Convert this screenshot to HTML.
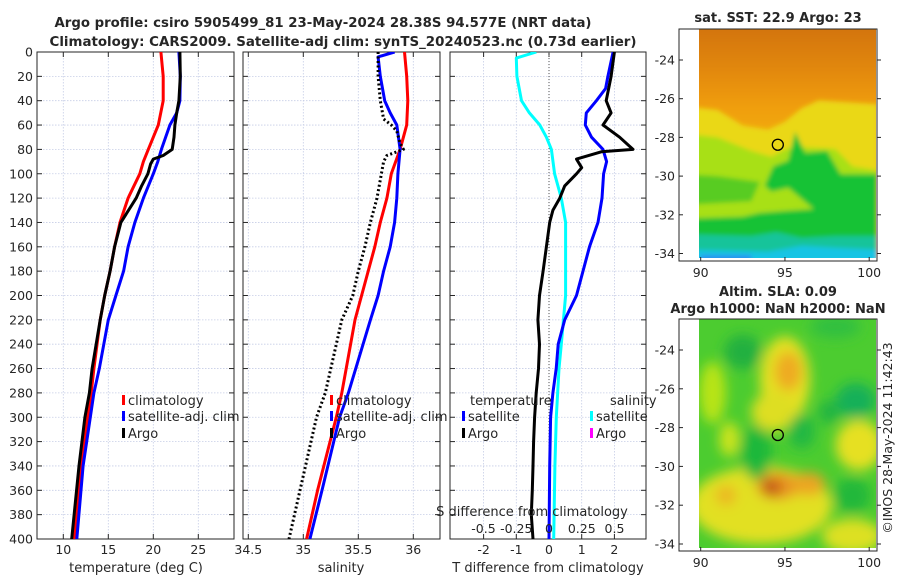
<!DOCTYPE html>
<html><head><meta charset="utf-8">
<style>
html,body{margin:0;padding:0;background:#fff;}
svg{display:block;font-family:"DejaVu Sans","Liberation Sans",sans-serif;}
text{fill:#262626;}
</style></head>
<body>
<svg id="c" width="900" height="580" viewBox="0 0 900 580" xmlns="http://www.w3.org/2000/svg">
<defs>
<clipPath id="cp1"><rect x="37" y="52" width="197" height="487"/></clipPath>
<clipPath id="cp2"><rect x="243" y="52" width="197" height="487"/></clipPath>
<clipPath id="cp3"><rect x="450" y="52" width="196" height="487"/></clipPath>
<clipPath id="cm1"><rect x="699" y="29" width="177" height="229"/></clipPath>
<clipPath id="cm2"><rect x="699" y="319" width="177" height="229"/></clipPath>
<filter id="bl1" x="-10%" y="-10%" width="120%" height="120%"><feGaussianBlur stdDeviation="2.5"/></filter>
<filter id="bl2" x="-30%" y="-30%" width="160%" height="160%"><feGaussianBlur stdDeviation="6"/></filter>
<linearGradient id="g1" x1="0" y1="0" x2="0" y2="1">
<stop offset="0" stop-color="#d0700a"/><stop offset="0.2" stop-color="#e2880c"/><stop offset="0.35" stop-color="#f09e0e"/><stop offset="0.5" stop-color="#f2ae10"/><stop offset="1" stop-color="#f2ae10"/>
</linearGradient>
</defs>
<g>
<text x="323" y="27" font-size="13.5" font-weight="bold" text-anchor="middle" textLength="537" lengthAdjust="spacingAndGlyphs">Argo profile: csiro 5905499_81 23-May-2024 28.38S 94.577E (NRT data)</text>
<text x="343" y="46" font-size="13.5" font-weight="bold" text-anchor="middle" textLength="587" lengthAdjust="spacingAndGlyphs">Climatology: CARS2009. Satellite-adj clim: synTS_20240523.nc (0.73d earlier)</text>
</g>
<g id="plots"></g>
<g id="maps"></g>
</svg>
<script>
// ---------- data: temperature panel ----------
const tClimDepth = [0,20,40,60,70,80,90,100,120,140,160,180,200,220,260,280,300,340,400];
const tClimVal   = [20.85,21.1,21.1,20.55,20.0,19.45,18.9,18.5,17.2,16.3,15.7,15.2,14.6,14.1,13.4,13.1,12.7,12.0,11.2];
const tSatDepth  = [0,20,40,50,60,80,90,100,120,140,160,180,200,220,260,280,300,340,400];
const tSatVal    = [22.85,23.0,22.96,22.6,21.85,20.9,20.5,20.0,18.9,17.96,17.2,16.7,15.85,15.0,14.0,13.4,13.0,12.2,11.5];
const tArgoDepth = [0,20,40,50,60,70,80,85,88,92,100,110,120,140,160,180,200,220,260,280,300,340,400];
const tArgoVal   = [22.96,23.0,22.85,22.6,22.4,22.3,22.1,21.1,20.0,19.7,19.4,18.7,18.1,16.4,15.7,15.2,14.6,14.1,13.2,12.9,12.4,11.75,10.93];
// ---------- data: salinity panel ----------
const sClimDepth = [0,20,40,60,70,80,100,120,140,160,180,200,220,280,300,360,400];
const sClimVal   = [35.92,35.94,35.95,35.94,35.91,35.88,35.80,35.76,35.70,35.65,35.59,35.53,35.47,35.35,35.30,35.13,35.03];
const sSatDepth  = [0,4,20,40,50,60,80,100,120,140,160,180,200,220,280,300,360,400];
const sSatVal    = [35.83,35.68,35.70,35.74,35.79,35.85,35.88,35.86,35.85,35.83,35.79,35.73,35.68,35.61,35.41,35.33,35.17,35.06];
const sArgoDepth = [0,20,40,55,60,65,75,80,85,90,100,120,140,160,180,200,220,280,300,360,400];
const sArgoVal   = [35.68,35.68,35.70,35.73,35.80,35.85,35.88,35.91,35.76,35.73,35.71,35.67,35.61,35.56,35.50,35.45,35.35,35.20,35.12,34.97,34.87];
// ---------- data: difference panel ----------
const dTSatDepth = [0,20,30,40,50,60,70,80,90,100,120,140,160,180,200,220,240,260,280,300,340,400];
const dTSatVal   = [1.96,1.8,1.73,1.45,1.14,1.11,1.3,1.65,1.76,1.67,1.62,1.5,1.24,1.04,0.84,0.48,0.28,0.22,0.12,0.05,0.02,0.0];
const dTArgoDepth= [0,20,40,50,60,70,80,82,88,95,100,110,120,130,140,160,180,200,220,240,260,280,300,320,340,360,380,400];
const dTArgoVal  = [2.0,1.9,1.75,1.9,1.65,2.16,2.57,1.6,0.84,1.0,0.84,0.48,0.33,0.12,0.02,-0.08,-0.18,-0.29,-0.34,-0.29,-0.32,-0.39,-0.44,-0.47,-0.49,-0.51,-0.54,-0.49];
const dSSatDepth = [0,5,20,40,50,60,70,80,100,120,140,160,200,240,260,300,340,400];
const dSSatVal   = [-0.097,-0.25,-0.245,-0.21,-0.15,-0.07,-0.02,0.018,0.043,0.094,0.127,0.127,0.127,0.094,0.076,0.056,0.045,0.036];
// ---------- tick labels ----------
const depthTicks = [0,20,40,60,80,100,120,140,160,180,200,220,240,260,280,300,320,340,360,380,400];
const tempTicks = [10,15,20,25];
const salTicks = [34.5,35,35.5,36];
const tdTicks = [-2,-1,0,1,2];
const sdTicks = [-0.5,-0.25,0,0.25,0.5];
const latTicks = [-24,-26,-28,-30,-32,-34];
const lonTicks = [90,95,100];
const argoLon = 94.577, argoLat = -28.38;

// ---------- axis functions ----------
const TOP=52, BOT=539;
const yD = d => TOP + d*(BOT-TOP)/400;
const xT = t => 63.3 + (t-10)*9;
const xS = s => 248.3 + (s-34.5)*110;
const xTd = v => 549 + v*32.7;
const xSd = v => 549 + v*131;
const mx = lon => 700.7 + (lon-90)*16.85;
const my1 = lat => 60 + (-24-lat)*19.35;
const my2 = lat => 350 + (-24-lat)*19.4;

const NS='http://www.w3.org/2000/svg';
function mk(tag, attrs, parent){const e=document.createElementNS(NS,tag);for(const k in attrs)e.setAttribute(k,attrs[k]);parent.appendChild(e);return e;}
const plots=document.getElementById('plots');

const panels=[
 {x0:37,x1:234,clip:'cp1',name:'temperature-panel'},
 {x0:243,x1:440,clip:'cp2',name:'salinity-panel'},
 {x0:450,x1:646,clip:'cp3',name:'difference-panel'}
];
const vgrid=[tempTicks.map(xT), salTicks.map(xS), tdTicks.map(xTd)];
panels.forEach((p,i)=>{
  const g=mk('g',{},plots);
  
  
  const gg=mk('g',{},g);
  
  
  depthTicks.forEach(d=>{
    mk('line',{x1:p.x0,x2:p.x1,y1:yD(d),y2:yD(d),stroke:'#c6cde6','stroke-width':0.8,'stroke-dasharray':'1.5,1.5'},gg);
    mk('line',{x1:p.x0,x2:p.x0+5,y1:yD(d),y2:yD(d),stroke:'#262626','stroke-width':1},gg);
    mk('line',{x1:p.x1-5,x2:p.x1,y1:yD(d),y2:yD(d),stroke:'#262626','stroke-width':1},gg);
  });
  vgrid[i].forEach(x=>{
    mk('line',{x1:x,x2:x,y1:TOP,y2:BOT,stroke:'#c6cde6','stroke-width':0.8,'stroke-dasharray':'1.5,1.5'},gg);
    mk('line',{x1:x,x2:x,y1:BOT-5,y2:BOT,stroke:'#262626','stroke-width':1},gg);
    mk('line',{x1:x,x2:x,y1:TOP,y2:TOP+5,stroke:'#262626','stroke-width':1},gg);
  });
  const fr=mk('rect',{x:p.x0,y:TOP,width:p.x1-p.x0,height:BOT-TOP,fill:'none',stroke:'#262626','stroke-width':1},g);
  
  
});
const zl=mk('line',{x1:xTd(0),x2:xTd(0),y1:TOP,y2:BOT,stroke:'#555','stroke-width':1,'stroke-dasharray':'1,2'},plots);



function series(depths, vals, xf, color, clip, name, dash, w){
  const pts=depths.map((d,i)=>xf(vals[i]).toFixed(1)+','+yD(d).toFixed(1)).join(' ');
  const a={points:pts,fill:'none',stroke:color,'stroke-width':w||3,'stroke-linejoin':'round','clip-path':'url(#'+clip+')'};
  if(dash)a['stroke-dasharray']=dash;
  const l=mk('polyline',a,plots);
  
  
}
series(tClimDepth,tClimVal,xT,'#ff0000','cp1','temp-climatology-line');
series(tSatDepth,tSatVal,xT,'#0000ff','cp1','temp-satellite-line');
series(tArgoDepth,tArgoVal,xT,'#000000','cp1','temp-argo-line');
series(sClimDepth,sClimVal,xS,'#ff0000','cp2','sal-climatology-line');
series(sSatDepth,sSatVal,xS,'#0000ff','cp2','sal-satellite-line');
series(sArgoDepth,sArgoVal,xS,'#000000','cp2','sal-argo-line','2,2.5');
series(dSSatDepth,dSSatVal,xSd,'#00ffff','cp3','sdiff-satellite-line');
series(dTSatDepth,dTSatVal,xTd,'#0000ff','cp3','tdiff-satellite-line');
series(dTArgoDepth,dTArgoVal,xTd,'#000000','cp3','tdiff-argo-line');

function txt(x,y,s,size,anchor,name,extra){
  const a={x:x,y:y,'font-size':size,'text-anchor':anchor||'start'};
  if(extra)for(const k in extra)a[k]=extra[k];
  const t=mk('text',a,plots);t.textContent=s;
  
  
  return t;
}
depthTicks.forEach(d=>txt(33,yD(d)+4.5,String(d),12.5,'end','depth-tick-label'));
tempTicks.forEach(t=>txt(xT(t),554,String(t),12.5,'middle','temp-tick-label'));
salTicks.forEach(s=>txt(xS(s),554,String(s),12.5,'middle','sal-tick-label'));
tdTicks.forEach(v=>txt(xTd(v),554,String(v),12.5,'middle','tdiff-tick-label'));
sdTicks.forEach(v=>txt(xSd(v),533,String(v),12.5,'middle','sdiff-tick-label'));
txt(136,572,'temperature (deg C)',13,'middle','temp-axis-title');
txt(341,572,'salinity',13,'middle','sal-axis-title');
txt(548,572,'T difference from climatology',13,'middle','tdiff-axis-title');
txt(532,516,'S difference from climatology',13,'middle','sdiff-axis-title');

function legendEntry(x,y,color,label,name){
  const g=mk('g',{},plots);
  
  
  mk('rect',{x:x,y:y-10,width:3,height:10,fill:color},g);
  const t=mk('text',{x:x+6,y:y,'font-size':13},g);t.textContent=label;
}
legendEntry(122,405,'#ff0000','climatology','legend-climatology');
legendEntry(122,421,'#0000ff','satellite-adj. clim','legend-satellite-adj');
legendEntry(122,438,'#000000','Argo','legend-argo');
legendEntry(330,405,'#ff0000','climatology','legend-sal-climatology');
legendEntry(330,421,'#0000ff','satellite-adj. clim','legend-sal-satellite-adj');
legendEntry(330,438,'#000000','Argo','legend-sal-argo');
txt(470,405,'temperature',13,'start','legend-temperature-header');
legendEntry(462,421,'#0000ff','satellite','legend-tdiff-satellite');
legendEntry(462,438,'#000000','Argo','legend-tdiff-argo');
txt(610,405,'salinity',13,'start','legend-salinity-header');
legendEntry(590,421,'#00ffff','satellite','legend-sdiff-satellite');
legendEntry(590,438,'#ff00ff','Argo','legend-sdiff-argo');

// ---------- maps ----------
const maps=document.getElementById('maps');
function poly(par, pts, my, fill, name){
  const p=mk('polygon',{points:pts.map(q=>mx(q[0]).toFixed(1)+','+my(q[1]).toFixed(1)).join(' '),fill:fill},par);
  
  
}
const m1=mk('g',{},maps);


const m1f=mk('g',{'clip-path':'url(#cm1)'},m1);
const m1b=mk('g',{filter:'url(#bl1)'},m1f);
mk('rect',{x:690,y:20,width:200,height:250,fill:'url(#g1)'},m1b);
poly(m1b,[[89,-26.4],[91,-26.6],[92.5,-27.4],[94,-27.6],[95,-27.2],[96,-26.5],[97,-26.1],[100.5,-26.3],[100.5,-36],[89,-36]],my1,'#ead818','sst-yellow');
poly(m1b,[[89,-27.8],[91,-28],[93,-28.7],[94.2,-29],[95,-28.6],[96,-28.5],[98,-28.6],[99,-29.5],[100.5,-29.7],[100.5,-36],[89,-36]],my1,'#a8e014','sst-lime');
poly(m1b,[[89,-29.9],[91,-30],[93.5,-30.3],[93,-31.3],[89,-31.5]],my1,'#58cc22','sst-green-left');
poly(m1b,[[95.6,-27.7],[96.2,-28.8],[97.5,-28.7],[98.3,-29.9],[100.5,-29.9],[100.5,-34],[89,-34],[89,-32.2],[92.5,-32.1],[93.5,-31.9],[95,-31.8],[96.7,-31.7],[95.2,-30.6],[94.2,-30.8],[93.8,-30.5],[94.3,-29.5],[95.2,-29.2]],my1,'#12c234','sst-green');
poly(m1b,[[89,-33],[93,-33.1],[94.5,-32.9],[96,-33.2],[98,-33.1],[100.5,-33.1],[100.5,-36],[89,-36]],my1,'#12c49a','sst-teal');
poly(m1b,[[89,-33.8],[94,-33.9],[96,-33.6],[98,-33.7],[100.5,-33.8],[100.5,-36],[89,-36]],my1,'#18c4e4','sst-cyan');
poly(m1b,[[90,-34.1],[93,-34.1],[93,-36],[90,-36]],my1,'#2a8ef0','sst-blue');
const m2=mk('g',{},maps);


const m2f=mk('g',{'clip-path':'url(#cm2)'},m2);
mk('rect',{x:690,y:310,width:200,height:250,fill:'#4ccc30'},m2f);
const m2b=mk('g',{filter:'url(#bl2)'},m2f);
const blobs=[
 [95,-25.5,1.5,2.2,'#e4e020'],[94.3,-27.2,1.3,1.0,'#dede22'],[90.7,-26.2,0.8,1.6,'#b8e418'],[91.7,-28.6,0.6,0.9,'#cce41c'],
 [93.6,-32,4.2,2.0,'#e2e020'],[99.4,-28.9,1.4,1.3,'#e6e020'],[99,-33.6,1.8,0.9,'#dde020'],[98,-22.8,1.5,0.6,'#30c040'],
 [95.2,-25.1,0.8,1.0,'#eeaa20'],[94.6,-31,1.3,0.7,'#e89420'],[96.4,-30.9,1.0,0.6,'#eca424'],[91.5,-31.5,0.6,0.5,'#ecb620'],
 [94.2,-31.1,0.55,0.45,'#c25412'],
 [92.5,-24.1,1.1,0.9,'#22b040'],[93.3,-29.3,0.9,1.4,'#1cb83a'],[96,-28.2,0.8,0.9,'#22b842'],[99.2,-26.6,1.2,0.9,'#14b058'],
 [99,-31.5,1.1,0.9,'#22b83a'],[97.6,-27.2,0.6,0.6,'#22b442']
];
blobs.forEach(b=>{
  const e=mk('ellipse',{cx:mx(b[0]),cy:my2(b[1]),rx:b[2]*16.85,ry:b[3]*19.4,fill:b[4]},m2b);
  
  
});
[[m1,29,261,my1],[m2,319,551,my2]].forEach(([g,y0,y1,my])=>{
  const fr=mk('rect',{x:679,y:y0,width:198,height:y1-y0,fill:'none',stroke:'#262626','stroke-width':1},g);
  
  
  latTicks.forEach(l=>{
    const y=my(l);
    mk('line',{x1:679,x2:683,y1:y,y2:y,stroke:'#262626'},g);
    mk('line',{x1:877,x2:881,y1:y,y2:y,stroke:'#262626'},g);
    const t=mk('text',{x:675,y:y+4.5,'font-size':12.5,'text-anchor':'end'},g);t.textContent=String(l);
    
    
  });
  lonTicks.forEach(l=>{
    const x=mx(l);
    mk('line',{x1:x,x2:x,y1:y1-4,y2:y1,stroke:'#262626'},g);
    const t=mk('text',{x:x,y:y1+16,'font-size':12.5,'text-anchor':'middle'},g);t.textContent=String(l);
    
    
  });
  const c=mk('ellipse',{cx:mx(argoLon),cy:my(argoLat),rx:5.5,ry:5.5,fill:'none',stroke:'#000','stroke-width':1.3},g);
  
  
});
function mtxt(x,y,s,name){
  const t=mk('text',{x:x,y:y,'font-size':13,'font-weight':'bold','text-anchor':'middle'},maps);t.textContent=s;
  
  
}
mtxt(778,22,'sat. SST: 22.9 Argo: 23','sst-map-title');
mtxt(778,296,'Altim. SLA: 0.09','sla-map-title');
mtxt(778,313,'Argo h1000: NaN h2000: NaN','sla-map-subtitle');
const cr=mk('text',{x:0,y:0,'font-size':12.5,'text-anchor':'middle',transform:'translate(892,438) rotate(-90)'},maps);
cr.textContent='©IMOS 28-May-2024 11:42:43';


</script>
</body></html>
